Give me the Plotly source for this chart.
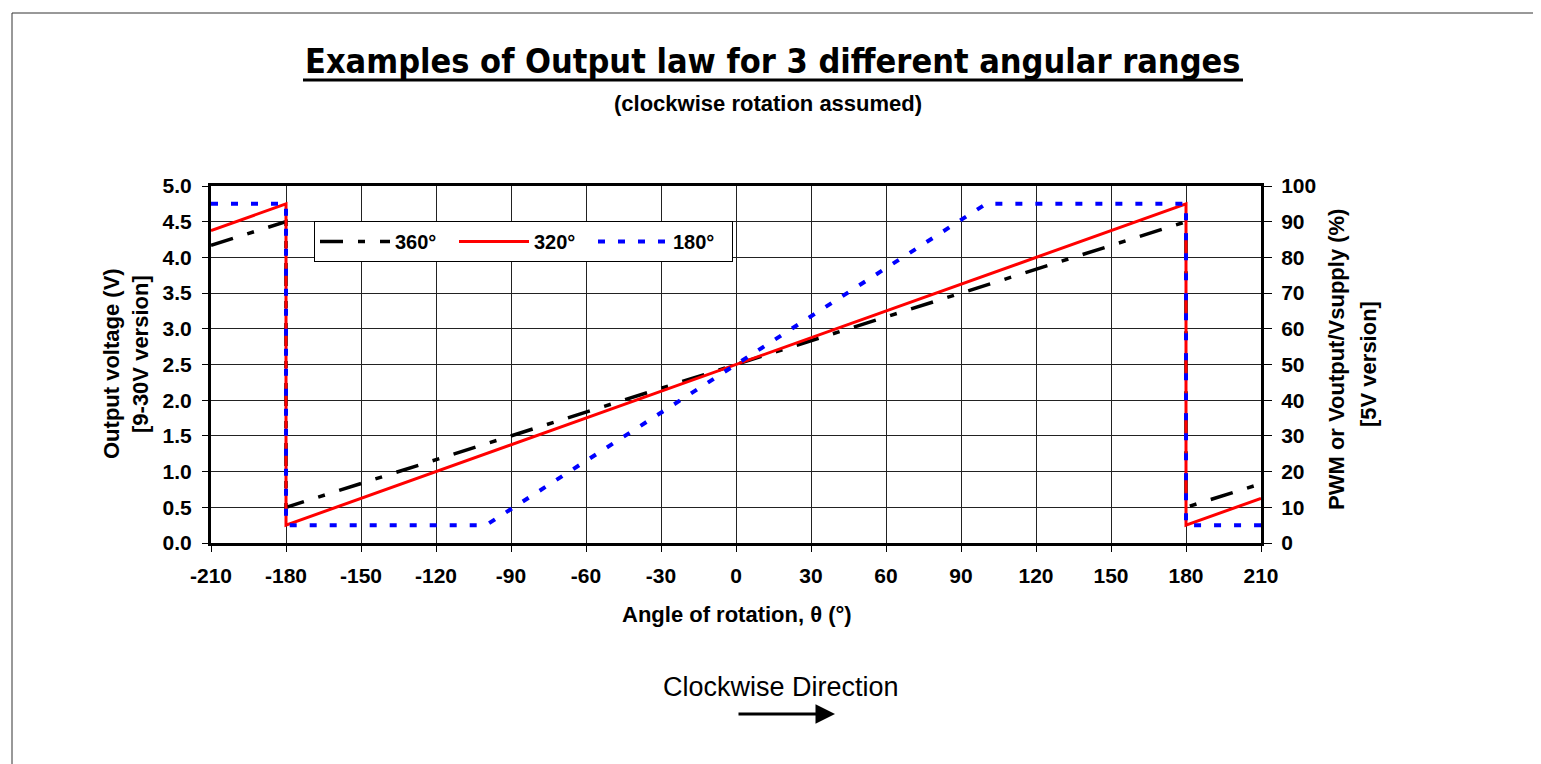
import plotly.graph_objects as go

# ---- data ----
angle_360 = [-210, -180, -180, 180, 180, 210]
volt_360 = [4.17, 4.5, 0.5, 4.5, 0.5, 0.83]

angle_320 = [-210, -180, -180, 180, 180, 210]
volt_320 = [4.375, 4.75, 0.25, 4.75, 0.25, 0.625]

angle_180 = [-210, -180, -180, -100, 100, 180, 180, 210]
volt_180 = [4.75, 4.75, 0.25, 0.25, 4.75, 4.75, 0.25, 0.25]

x_ticks = list(range(-210, 211, 30))
left_ticks = [i * 0.5 for i in range(11)]
right_ticks = list(range(0, 101, 10))

# page layout (the html body has an 8px margin)
OFF = 8
W, H = 1541, 764
L, R, T, B = 211, 1261, 186, 543


def px(x):
    return (x - L) / (R - L)


def py(y):
    return (B - y) / (B - T)


FONT = "Liberation Sans, Arial, sans-serif"
tickf = dict(family=FONT, size=21, color="black", weight="bold")

fig = go.Figure()
fig.add_trace(go.Scatter(x=angle_360, y=volt_360, mode="lines", name="360°",
                         line=dict(color="black", width=3.5, dash="23px,15px,7px,15px")))
fig.add_trace(go.Scatter(x=angle_320, y=volt_320, mode="lines", name="320°",
                         line=dict(color="#ff0000", width=3)))
fig.add_trace(go.Scatter(x=angle_180, y=volt_180, mode="lines", name="180°",
                         line=dict(color="#0000ff", width=4, dash="7px,13px")))
# invisible trace to bind the right axis
fig.add_trace(go.Scatter(x=[0], y=[50], yaxis="y2", mode="markers",
                         marker=dict(opacity=0), showlegend=False, hoverinfo="skip"))

fig.update_layout(
    width=W - OFF, height=H - OFF,
    margin=dict(l=L - OFF, r=W - R, t=T - OFF, b=H - B, pad=0),
    paper_bgcolor="white", plot_bgcolor="white",
    showlegend=True,
    legend=dict(orientation="h", x=px(314), y=py(221), xanchor="left", yanchor="top",
                bordercolor="black", borderwidth=1, bgcolor="white",
                font=dict(family=FONT, size=20, color="black", weight="bold"),
                itemwidth=70, entrywidth=54, entrywidthmode="pixels", tracegroupgap=0),
    xaxis=dict(range=[-210, 210], tickvals=x_ticks, ticktext=[str(v) for v in x_ticks],
               showgrid=True, gridcolor="#222", gridwidth=1, zeroline=False,
               showline=True, linecolor="black", linewidth=3, mirror=True,
               ticks="outside", ticklen=6, tickcolor="black", tickwidth=1,
               tickfont=tickf, ticklabelstandoff=6),
    yaxis=dict(range=[0, 5], tickvals=left_ticks, ticktext=[f"{v:.1f}" for v in left_ticks],
               showgrid=True, gridcolor="#222", gridwidth=1, zeroline=False,
               showline=True, linecolor="black", linewidth=3, mirror=True,
               ticks="outside", ticklen=6, tickcolor="black", tickwidth=1,
               tickfont=tickf, ticklabelstandoff=6),
    yaxis2=dict(range=[0, 100], tickvals=right_ticks, overlaying="y", side="right",
                showgrid=False, zeroline=False, showline=True, linecolor="black", linewidth=3,
                ticks="outside", ticklen=8, tickcolor="black", tickwidth=1,
                tickfont=tickf, ticklabelstandoff=5),
)

ann = []
ann.append(dict(text="Examples of Output law for 3 different angular ranges",
                x=px(773), y=py(61), xref="paper", yref="paper", showarrow=False,
                xanchor="center", yanchor="middle",
                font=dict(family="DejaVu Sans Condensed, Liberation Sans Narrow, sans-serif",
                          size=34, color="black", weight="bold")))
ann.append(dict(text="(clockwise rotation assumed)", x=px(768), y=py(104), xref="paper", yref="paper",
                showarrow=False, xanchor="center", yanchor="middle",
                font=dict(family=FONT, size=22, color="black", weight="bold")))
ann.append(dict(text="Angle of rotation, θ (°)", x=px(737), y=py(614), xref="paper", yref="paper",
                showarrow=False, xanchor="center", yanchor="middle",
                font=dict(family=FONT, size=22, color="black", weight="bold")))
ann.append(dict(text="Output voltage (V)", x=px(111), y=py(364), xref="paper", yref="paper",
                showarrow=False, xanchor="center", yanchor="middle", textangle=-90,
                font=dict(family=FONT, size=22, color="black", weight="bold")))
ann.append(dict(text="[9-30V version]", x=px(140), y=py(354), xref="paper", yref="paper",
                showarrow=False, xanchor="center", yanchor="middle", textangle=-90,
                font=dict(family=FONT, size=22, color="black", weight="bold")))
ann.append(dict(text="PWM or Voutput/Vsupply (%)", x=px(1336), y=py(360), xref="paper", yref="paper",
                showarrow=False, xanchor="center", yanchor="middle", textangle=-90,
                font=dict(family=FONT, size=22, color="black", weight="bold")))
ann.append(dict(text="[5V version]", x=px(1368), y=py(364), xref="paper", yref="paper",
                showarrow=False, xanchor="center", yanchor="middle", textangle=-90,
                font=dict(family=FONT, size=22, color="black", weight="bold")))
ann.append(dict(text="Clockwise Direction", x=px(781), y=py(687), xref="paper", yref="paper",
                showarrow=False, xanchor="center", yanchor="middle",
                font=dict(family=FONT, size=27, color="black")))
ann.append(dict(text="", x=px(835), y=py(714), xref="paper", yref="paper",
                ax=-98, ay=0, axref="pixel", ayref="pixel", showarrow=True,
                arrowhead=2, arrowsize=1.3, arrowwidth=3, arrowcolor="black"))
fig.update_layout(annotations=ann)

fig.add_shape(type="line", xref="paper", yref="paper", x0=px(303), x1=px(1243),
              y0=py(80), y1=py(80), line=dict(color="black", width=3))
fig.add_shape(type="rect", xref="paper", yref="paper", x0=px(12), x1=px(1536),
              y0=py(780), y1=py(13), line=dict(color="#333", width=1), layer="below")

fig.write_html("out.html")
